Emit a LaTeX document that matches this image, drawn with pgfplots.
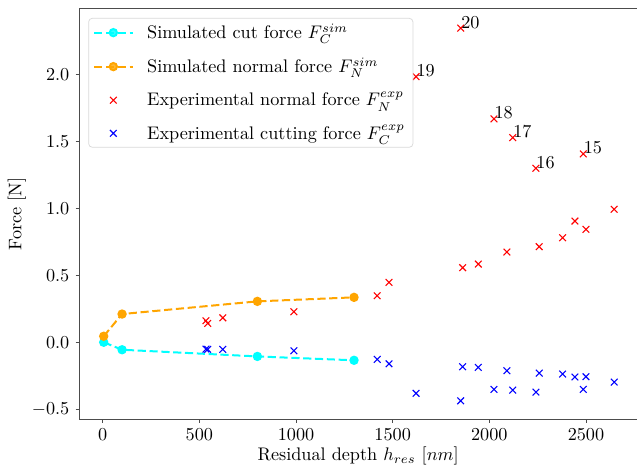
\documentclass[border=0pt]{standalone}
\usepackage{pgfplots}
\pgfplotsset{compat=1.18}
\usepackage{pgfplotstable}
\definecolor{mplorange}{RGB}{255,165,0}
\definecolor{mplcyan}{RGB}{0,255,255}

\pgfplotstableread{
x y
5 0.000
100 -0.056
800 -0.106
1300 -0.135
}\simcut

\pgfplotstableread{
x y
5 0.045
100 0.211
800 0.306
1300 0.336
}\simnormal

\pgfplotstableread{
x y
534 0.161
543 0.141
621 0.183
989 0.228
1420 0.348
1481 0.448
1862 0.558
1943 0.585
2091 0.675
2258 0.715
2379 0.782
2443 0.907
2500 0.845
2646 0.995
}\expnormal

\pgfplotstableread{
x y label
1852 2.350 20
1621 1.987 19
2024 1.671 18
2121 1.531 17
2241 1.302 16
2486 1.409 15
}\expnormallab

\pgfplotstableread{
x y
534 -0.051
543 -0.053
621 -0.053
989 -0.064
1420 -0.128
1481 -0.161
1621 -0.382
1862 -0.183
1852 -0.438
1943 -0.188
2024 -0.353
2091 -0.213
2121 -0.358
2241 -0.373
2258 -0.231
2379 -0.238
2443 -0.260
2500 -0.258
2486 -0.353
2646 -0.298
}\expcut

\begin{document}
\begin{tikzpicture}
\useasboundingbox (-43.6pt,-27.5pt) rectangle (306.4pt,230.2pt);
\begin{axis}[
  at={(0,0)}, anchor=south west,
  scale only axis, width=306.4pt, height=225.3pt,
  xmin=-121, xmax=2764, ymin=-0.574, ymax=2.494,
  axis x line*=box, axis y line*=left,
  xtick pos=left, ytick pos=left,
  tick align=outside, major tick length=2pt,
  axis line style={black!70, line width=0.5pt},
  every tick/.style={black!70, line width=0.5pt},
  xtick={0,500,1000,1500,2000,2500},
  ytick={-0.5,0,0.5,1,1.5,2},
  xticklabel style={/pgf/number format/1000 sep={}},
  yticklabel style={/pgf/number format/.cd, fixed, fixed zerofill, precision=1},
  scaled ticks=false,
  xlabel={Residual depth $h_{res}$ $[nm]$},
  xlabel style={yshift=3.5pt},
  ylabel={Force [N]},
  ylabel style={at={(axis description cs:-0.112,0.5)}, anchor=center},
  legend style={at={(0.016,0.978)}, anchor=north west, draw=black!15,
    rounded corners=2pt, fill=white, fill opacity=0.8, text opacity=1,
    font=\normalsize, row sep=4.9pt, inner xsep=2.5pt, inner ysep=1pt,
    /tikz/every odd column/.append style={column sep=5.5pt}},
  legend cell align=left,
  legend image code/.code={\draw[mark repeat=2,mark phase=2,#1] plot coordinates {(0cm,0cm) (0.37cm,0cm) (0.74cm,0cm)};},
]
\addplot[mplcyan, line width=1.1pt, dash pattern=on 4.5pt off 2pt, mark=*, mark size=2pt, mark options={solid, fill=mplcyan, draw=mplcyan}] table {\simcut};
\addlegendentry{Simulated cut force $F_C^{sim}$}
\addplot[mplorange, line width=1.1pt, dash pattern=on 4.5pt off 2pt, mark=*, mark size=2pt, mark options={solid, fill=mplorange, draw=mplorange}] table {\simnormal};
\addlegendentry{Simulated normal force $F_N^{sim}$}
\addplot[red, only marks, mark=x, mark size=2.6pt, line width=0.6pt] table {\expnormal};
\addlegendentry{Experimental normal force $F_N^{exp}$}
\addplot[blue, only marks, mark=x, mark size=2.6pt, line width=0.6pt] table {\expcut};
\addlegendentry{Experimental cutting force $F_C^{exp}$}
\addplot[red, only marks, mark=x, mark size=2.6pt, line width=0.6pt, forget plot,
  nodes near coords, point meta=explicit symbolic,
  every node near coord/.style={anchor=base west, inner sep=0pt, text=black, font=\normalsize}]
  table[meta=label] {\expnormallab};
\end{axis}
\end{tikzpicture}
\end{document}
